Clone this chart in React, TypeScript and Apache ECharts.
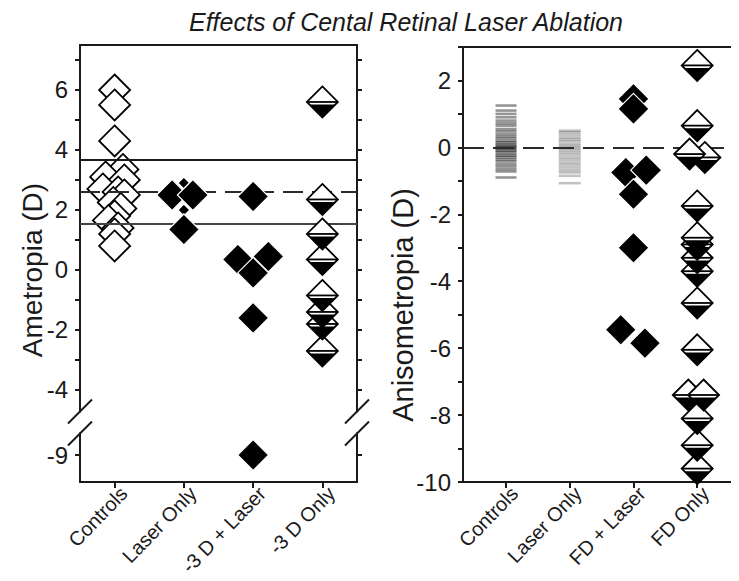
import React, { useEffect, useRef } from "react";
import * as echarts from "echarts";

const TITLE = "Effects of Cental Retinal Laser Ablation";
const LEFT_Y_NAME = "Ametropia (D)";
const RIGHT_Y_NAME = "Anisometropia (D)";

const LEFT_CATEGORIES = ["Controls", "Laser Only", "-3 D + Laser", "-3 D Only"];
const RIGHT_CATEGORIES = ["Controls", "Laser Only", "FD + Laser", "FD Only"];

const LEFT_TICKS = [-9, -4, -3, -2, -1, 0, 1, 2, 3, 4, 5, 6, 7];
const LEFT_TICK_LABELS = [-9, -4, -2, 0, 2, 4, 6];
const RIGHT_TICKS = [-10, -9, -8, -7, -6, -5, -4, -3, -2, -1, 0, 1, 2, 3];
const RIGHT_TICK_LABELS = [-10, -8, -6, -4, -2, 0, 2];

// Left panel: Ametropia (D)
const AMET_CONTROLS = [6.0, 5.5, 4.3, 3.35, 3.1, 3.0, 2.7, 2.6, 2.5, 2.25, 2.05, 1.8, 1.65, 1.4, 1.2, 0.8];
const AMET_CONTROLS_JITTER = [0, 0, 0, 0.12, -0.13, 0.14, -0.17, 0.05, 0.14, -0.02, 0.09, 0, -0.09, 0.05, 0, 0];
const AMET_LASER = [2.5, 2.5, 1.35];
const AMET_LASER_JITTER = [-0.17, 0.13, 0];
const AMET_LASER_SMALL = [2.9, 2.0];
const AMET_M3_LASER = [2.45, 0.35, 0.45, -0.1, -1.6, -9];
const AMET_M3_LASER_JITTER = [0, -0.22, 0.22, 0, 0, 0];
const AMET_M3_ONLY = [5.6, 2.35, 1.2, 0.35, -0.85, -1.4, -1.8, -2.7];
const AMET_REF_UPPER = 3.67;
const AMET_REF_MEAN = 2.6;
const AMET_REF_LOWER = 1.53;

// Right panel: Anisometropia (D)
const ANISO_CONTROLS = [1.25, 1.1, 1.0, 0.9, 0.8, 0.72, 0.65, 0.55, 0.48, 0.4, 0.33, 0.27, 0.2, 0.15, 0.1, 0.05, 0.02, -0.02, -0.05, -0.1, -0.14, -0.2, -0.25, -0.3, -0.36, -0.42, -0.5, -0.57, -0.65, -0.72, -0.9];
const ANISO_LASER = [0.5, 0.45, 0.38, 0.3, 0.24, 0.18, 0.1, 0.04, -0.02, -0.08, -0.15, -0.22, -0.3, -0.37, -0.45, -0.52, -0.6, -0.68, -0.75, -0.85, -1.07];
const ANISO_FD_LASER = [1.45, 1.15, -0.75, -0.68, -1.4, -3.0, -5.45, -5.85];
const ANISO_FD_LASER_JITTER = [0, 0, -0.12, 0.2, 0, 0, -0.2, 0.18];
const ANISO_FD_ONLY = [2.45, 0.65, -0.2, -0.3, -1.75, -2.7, -2.9, -3.3, -3.7, -4.65, -6.05, -7.4, -7.4, -8.1, -8.9, -9.6];
const ANISO_FD_ONLY_JITTER = [0, 0, -0.12, 0.12, 0, 0, 0, 0, 0, 0, 0, -0.14, 0.1, 0, 0, 0];
const ANISO_REF = 0;

const BREAK_SHIFT = 2.83;
const mapLeft = (v: number) => (v < -4.5 ? v + BREAK_SHIFT : v);
const LEFT_MIN = -9.9;
const LEFT_MAX = 7.5;

const FONT = '"Liberation Sans", Arial, sans-serif';
const INK = "#1a1a1a";
const CAT_POS = [1, 2, 3, 4];
const LABEL_SHIFT = 0.13;

function labelFor(v: number): string {
  let best = LEFT_TICK_LABELS[0];
  let d = Infinity;
  for (const t of LEFT_TICK_LABELS) {
    const dd = Math.abs(mapLeft(t) - v);
    if (dd < d) { d = dd; best = t; }
  }
  return String(best);
}

function halfDiamond(params: any, api: any) {
  const p = api.coord([api.value(0), api.value(1)]);
  const cx = p[0], cy = p[1];
  const s = 15.5;
  const g = 2.6;
  return {
    type: "group",
    children: [
      { type: "polygon", shape: { points: [[cx, cy - s], [cx + s, cy], [cx, cy + s], [cx - s, cy]] }, style: { fill: "#fff", stroke: "#000", lineWidth: 1.8 } },
      { type: "line", shape: { x1: cx - s, y1: cy, x2: cx + s, y2: cy }, style: { stroke: "#000", lineWidth: 1.8 } },
      { type: "polygon", shape: { points: [[cx - s + g, cy + g], [cx + s - g, cy + g], [cx, cy + s]] }, style: { fill: "#000" } },
    ],
  };
}

export default function App() {
  const ref = useRef<HTMLDivElement>(null);
  useEffect(() => {
    if (!ref.current) return;
    const chart = echarts.init(ref.current, null, { renderer: "svg" });

    const frameLine = { show: true, onZero: false, lineStyle: { color: INK, width: 2 } };
    const noTick = { show: false };
    const noLabel = { show: false };

    const openDiamond = { color: "#fff", borderColor: "#000", borderWidth: 1.8, opacity: 1 };
    const blackDiamond = { color: "#000", borderColor: "#fff", borderWidth: 1.2, opacity: 1 };

    const catLabel = (cats: string[]) => ({
      show: true, customValues: CAT_POS.map((c) => c + LABEL_SHIFT), rotate: 46, margin: 8, fontSize: 20, color: INK, fontFamily: FONT,
      formatter: (v: number) => cats[Math.round(v) - 1] ?? "",
    });

    const option: any = {
      animation: false,
      textStyle: { fontFamily: FONT, color: INK },
      grid: [
        { left: 72, top: 37, width: 277, height: 437 },
        { left: 455, top: 39, width: 282, height: 435 },
      ],
      xAxis: [
        {
          gridIndex: 0, type: "value", min: 0.5, max: 4.5, position: "bottom",
          axisLine: frameLine,
          axisTick: { show: true, customValues: CAT_POS, length: 6, lineStyle: { color: INK, width: 2 } },
          axisLabel: catLabel(LEFT_CATEGORIES),
          splitLine: { show: false },
        },
        { gridIndex: 0, type: "value", min: 0.5, max: 4.5, position: "top", axisLine: frameLine, axisTick: noTick, axisLabel: noLabel, splitLine: { show: false } },
        {
          gridIndex: 1, type: "value", min: 0.325, max: 4.75, position: "bottom",
          axisLine: frameLine,
          axisTick: { show: true, customValues: CAT_POS, length: 6, lineStyle: { color: INK, width: 2 } },
          axisLabel: catLabel(RIGHT_CATEGORIES),
          splitLine: { show: false },
        },
        { gridIndex: 1, type: "value", min: 0.325, max: 4.75, position: "top", axisLine: frameLine, axisTick: noTick, axisLabel: noLabel, splitLine: { show: false } },
      ],
      yAxis: [
        {
          gridIndex: 0, type: "value", min: mapLeft(LEFT_MIN), max: LEFT_MAX, position: "left",
          axisLine: frameLine,
          axisTick: { show: true, customValues: LEFT_TICKS.map(mapLeft), length: 5, lineStyle: { color: INK, width: 2 } },
          axisLabel: { show: true, customValues: LEFT_TICK_LABELS.map(mapLeft), margin: 12, fontSize: 24, color: INK, fontFamily: FONT, formatter: (v: number) => labelFor(v) },
          splitLine: { show: false },
        },
        {
          gridIndex: 0, type: "value", min: mapLeft(LEFT_MIN), max: LEFT_MAX, position: "right",
          axisLine: frameLine,
          axisTick: { show: true, customValues: LEFT_TICKS.map(mapLeft), length: 5, lineStyle: { color: INK, width: 2 } },
          axisLabel: noLabel,
          splitLine: { show: false },
        },
        {
          gridIndex: 1, type: "value", min: -10, max: 3, position: "left",
          axisLine: frameLine,
          axisTick: { show: true, customValues: RIGHT_TICKS, length: 5, lineStyle: { color: INK, width: 2 } },
          axisLabel: { show: true, customValues: RIGHT_TICK_LABELS, margin: 12, fontSize: 24, color: INK, fontFamily: FONT },
          splitLine: { show: false },
        },
        { gridIndex: 1, type: "value", min: -10, max: 3, position: "right", axisLine: frameLine, axisTick: noTick, axisLabel: noLabel, splitLine: { show: false } },
      ],
      series: [
        {
          type: "scatter", xAxisIndex: 0, yAxisIndex: 0, silent: true, z: 2,
          symbol: "diamond", symbolSize: 31, itemStyle: openDiamond,
          data: AMET_CONTROLS.map((v, i) => [1 + AMET_CONTROLS_JITTER[i], mapLeft(v)]),
        },
        {
          type: "line", xAxisIndex: 0, yAxisIndex: 0, silent: true, z: 3, data: [],
          markLine: {
            silent: true, symbol: "none", label: { show: false }, z: 3,
            data: [
              { yAxis: AMET_REF_UPPER, lineStyle: { color: INK, width: 2, type: "solid" } },
              { yAxis: AMET_REF_MEAN, lineStyle: { color: "#2a2a2a", width: 2, type: [20, 9] } },
              { yAxis: AMET_REF_LOWER, lineStyle: { color: "#444", width: 2.2, type: "solid" } },
            ],
          },
        },
        {
          type: "scatter", xAxisIndex: 0, yAxisIndex: 0, silent: true, z: 4,
          symbol: "diamond", symbolSize: 12, itemStyle: blackDiamond,
          data: AMET_LASER_SMALL.map((v) => [2, mapLeft(v)]),
        },
        {
          type: "scatter", xAxisIndex: 0, yAxisIndex: 0, silent: true, z: 4,
          symbol: "diamond", symbolSize: 31, itemStyle: blackDiamond,
          data: AMET_LASER.map((v, i) => [2 + AMET_LASER_JITTER[i], mapLeft(v)]),
        },
        {
          type: "scatter", xAxisIndex: 0, yAxisIndex: 0, silent: true, z: 4,
          symbol: "diamond", symbolSize: 31, itemStyle: blackDiamond,
          data: AMET_M3_LASER.map((v, i) => [3 + AMET_M3_LASER_JITTER[i], mapLeft(v)]),
        },
        {
          type: "custom", xAxisIndex: 0, yAxisIndex: 0, silent: true, z: 4,
          renderItem: halfDiamond,
          data: AMET_M3_ONLY.map((v) => [4, mapLeft(v)]).sort((a, b) => a[1] - b[1]),
        },
        // right panel
        {
          type: "scatter", xAxisIndex: 2, yAxisIndex: 2, silent: true, z: 2,
          symbol: "rect", symbolSize: [21, 2.6], itemStyle: { color: "#000", opacity: 0.42 },
          data: ANISO_CONTROLS.map((v) => [1, v]),
        },
        {
          type: "scatter", xAxisIndex: 2, yAxisIndex: 2, silent: true, z: 2,
          symbol: "rect", symbolSize: [22, 2.6], itemStyle: { color: "#000", opacity: 0.24 },
          data: ANISO_LASER.map((v) => [2, v]),
        },
        {
          type: "line", xAxisIndex: 2, yAxisIndex: 2, silent: true, z: 3, data: [],
          markLine: {
            silent: true, symbol: "none", label: { show: false }, z: 3,
            data: [{ yAxis: ANISO_REF, lineStyle: { color: "#2a2a2a", width: 2, type: [21, 9] } }],
          },
        },
        {
          type: "scatter", xAxisIndex: 2, yAxisIndex: 2, silent: true, z: 4,
          symbol: "diamond", symbolSize: 31, itemStyle: blackDiamond,
          data: ANISO_FD_LASER.map((v, i) => [3 + ANISO_FD_LASER_JITTER[i], v]),
        },
        {
          type: "custom", xAxisIndex: 2, yAxisIndex: 2, silent: true, z: 4,
          renderItem: halfDiamond,
          data: ANISO_FD_ONLY.map((v, i) => [4 + ANISO_FD_ONLY_JITTER[i], v]).sort((a, b) => a[1] - b[1]),
        },
      ],
    };
    chart.setOption(option);

    const mid = (mapLeft(-4) + mapLeft(-9)) / 2;
    const yMid = chart.convertToPixel({ yAxisIndex: 0 }, mid) as number;
    const xL = chart.convertToPixel({ xAxisIndex: 0 }, 0.5) as number;
    const xR = chart.convertToPixel({ xAxisIndex: 0 }, 4.5) as number;
    const breakMarks = (x: number) => [
      { type: "rect", shape: { x: x - 4, y: yMid - 10, width: 8, height: 20 }, style: { fill: "#fff" }, z: 100 },
      { type: "line", shape: { x1: x - 12, y1: yMid - 11 + 12, x2: x + 12, y2: yMid - 11 - 12 }, style: { stroke: INK, lineWidth: 2 }, z: 101 },
      { type: "line", shape: { x1: x - 12, y1: yMid + 11 + 12, x2: x + 12, y2: yMid + 11 - 12 }, style: { stroke: INK, lineWidth: 2 }, z: 101 },
    ];

    chart.setOption({
      graphic: [
        { type: "text", x: 398, y: 14, style: { text: TITLE, font: `italic 25px ${FONT}`, fill: INK, textAlign: "center", textVerticalAlign: "middle" } },
        { type: "text", x: 24, y: 262, rotation: Math.PI / 2, style: { text: LEFT_Y_NAME, font: `28px ${FONT}`, fill: INK, textAlign: "center", textVerticalAlign: "middle" } },
        { type: "text", x: 395, y: 297, rotation: Math.PI / 2, style: { text: RIGHT_Y_NAME, font: `29px ${FONT}`, fill: INK, textAlign: "center", textVerticalAlign: "middle" } },
        ...breakMarks(xL),
        ...breakMarks(xR),
      ],
    });

    return () => chart.dispose();
  }, []);
  return <div ref={ref} style={{ width: 739, height: 581 }} />;
}
